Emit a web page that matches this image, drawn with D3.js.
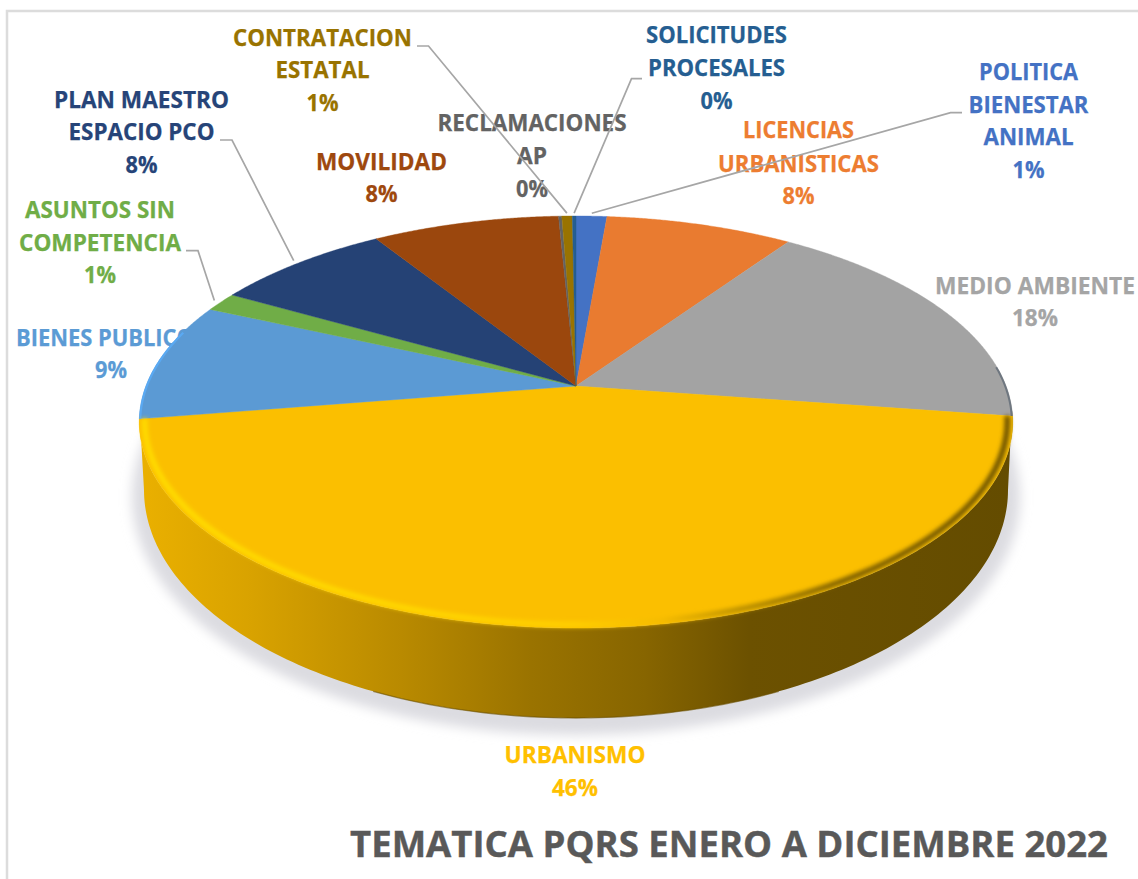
<!DOCTYPE html>
<html><head><meta charset="utf-8">
<script src="https://cdn.jsdelivr.net/npm/d3@7/dist/d3.min.js"></script>
<style>html,body{margin:0;padding:0;background:#fff;overflow:hidden}svg{display:block}text{font-family:"Open Sans",sans-serif;font-weight:700}</style>
</head><body><svg id="c" width="1138" height="879"></svg>
<script>
// ---- data ----
const categories = ["POLITICA BIENESTAR ANIMAL","LICENCIAS URBANISTICAS","MEDIO AMBIENTE","URBANISMO","BIENES PUBLICOS","ASUNTOS SIN COMPETENCIA","PLAN MAESTRO ESPACIO PCO","MOVILIDAD","RECLAMACIONES AP","CONTRATACION ESTATAL","SOLICITUDES PROCESALES"];
const values = [1.35,8.2,17.8,45.1,9.3,1.5,7.8,8.2,0.14,0.46,0.16];
const percentLabels = ["1%","8%","18%","46%","9%","1%","8%","8%","0%","1%","0%"];
const sliceColors = ["#4472c4","#e97b30","#a3a3a3","#fbbf00","#5b9ad4","#70ad47","#254275","#9b470d","#636363","#997300","#255e91"];
const textColors  = ["#4472c4","#ed7d31","#a5a5a5","#ffc000","#5b9bd5","#70ad47","#264478","#9e480e","#636363","#997300","#255e91"];
const titleText = "TEMATICA PQRS ENERO A DICIEMBRE 2022";

// ---- layout: per-category label lines as [text, centre x, baseline y, width] ----
const labelLines = [
 [["POLITICA",1028.5,80,99],["BIENESTAR",1028.5,113,120],["ANIMAL",1028.5,145,90],["1%",1028.5,178,32]],
 [["LICENCIAS",798.5,138,111],["URBANISTICAS",798.5,172,161],["8%",798.5,204,32]],
 [["MEDIO AMBIENTE",1035,294,200],["18%",1035,326,46]],
 [["URBANISMO",575,763,141],["46%",575,796,46]],
 [["BIENES PUBLICOS",111,346,190],["9%",111,378,32]],
 [["ASUNTOS SIN",100,218,150],["COMPETENCIA",100,251,162],["1%",100,283,32]],
 [["PLAN MAESTRO",141.5,108,175],["ESPACIO PCO",141.5,140,146],["8%",141.5,173,32]],
 [["MOVILIDAD",381.5,170,131],["8%",381.5,202,32]],
 [["RECLAMACIONES",532,131,189],["AP",532,164,30],["0%",532,197,32]],
 [["CONTRATACION",322.5,46,179],["ESTATAL",322.5,78,94],["1%",322.5,111,32]],
 [["SOLICITUDES",716.5,43,141],["PROCESALES",716.5,76,137],["0%",716.5,109,32]]
];
// leader lines: category index and the elbow (label end, knee); the far end is taken from the slice rim
const leaders = [
 [0,[962,112.7],[950.6,112.7]],
 [9,[417,46],[428.5,46]],
 [10,[642,78.7],[631.5,78.7]],
 [6,[220,140],[232,140]],
 [5,[186,250.7],[198,250.7]]
];

const cx=576, cy=422, rxC=430, ry=206, lift=36, k=-0.1748;
const base={cx:576,cy:490,rx:432,ry:228};
function project(a,r=1){const x=r*Math.sin(a),y=-r*Math.cos(a),w=1+k*y;return [cx+rxC*x/w,cy+(ry*y-lift)/w];}
const line=d3.line();
const svg=d3.select("#c");
const defs=svg.append("defs");
const blur=(id,s)=>defs.append("filter").attr("id",id).attr("x","-10%").attr("y","-10%").attr("width","120%").attr("height","120%").append("feGaussianBlur").attr("stdDeviation",s);
blur("shadow",6);blur("soft",2.2);

const arcs=d3.pie().sort(null).value(d=>d)(values);
const urb=arcs[3];

// frame
svg.append("rect").attr("x",7).attr("y",11).attr("width",1300).attr("height",1000).attr("fill","none").attr("stroke","#dcdcdc").attr("stroke-width",2.5);

// labels sit behind the pie
labelLines.forEach((lines,i)=>{
  svg.append("g").selectAll("text").data(lines).join("text")
    .attr("x",d=>d[1]).attr("y",d=>d[2]).attr("text-anchor","middle")
    .attr("font-size",22.4).attr("fill",textColors[i]).attr("stroke",textColors[i]).attr("stroke-width",.25)
    .attr("textLength",d=>d[3]).attr("lengthAdjust","spacingAndGlyphs").text(d=>d[0]);
});
// leaders
leaders.forEach(([i,p0,p1])=>{
  const a=(arcs[i].startAngle+arcs[i].endAngle)/2;
  svg.append("path").attr("d",line([p0,p1,project(a,1.02)])).attr("fill","none").attr("stroke","#a6a6a6").attr("stroke-width",1.7);
});

// ground shadow
svg.append("ellipse").attr("cx",base.cx).attr("cy",base.cy+7).attr("rx",base.rx+12).attr("ry",base.ry+10).attr("fill","#dcdce1").attr("filter","url(#shadow)");

// side wall
const grad=defs.append("linearGradient").attr("id","side").attr("gradientUnits","userSpaceOnUse").attr("x1",140).attr("x2",1010).attr("y1",0).attr("y2",0);
[[0,"#eab000"],[0.13,"#d8a200"],[0.3,"#b98a00"],[0.45,"#9a7300"],[0.58,"#876500"],[0.7,"#6c5100"],[1,"#644c00"]].forEach(s=>grad.append("stop").attr("offset",s[0]).attr("stop-color",s[1]));
const rimTop=d3.range(urb.startAngle-0.03,urb.endAngle+0.03,0.01).map(a=>project(a));
const rimBase=d3.range(270,89,-1).map(d=>{const t=d*Math.PI/180;return [base.cx+base.rx*Math.sin(t),base.cy-base.ry*Math.cos(t)];});
svg.append("path").attr("d",line(rimTop.concat(rimBase))+"Z").attr("fill","url(#side)");
// dark foot of the wall
svg.append("path").attr("d",line(rimBase.filter(p=>p[1]>690))).attr("fill","none").attr("stroke","#6a5000").attr("stroke-width",1.3).attr("opacity",.6);

// top faces
const steps=a=>d3.range(a.startAngle,a.endAngle,0.005).concat([a.endAngle]);
svg.append("g").selectAll("path").data(arcs).join("path")
  .attr("d",d=>line([project(0,0)].concat(steps(d).map(t=>project(t))))+"Z")
  .attr("fill",(d,i)=>sliceColors[i]).attr("stroke",(d,i)=>sliceColors[i]).attr("stroke-width",.4);

// rim glints on the neighbouring slices
svg.append("path").attr("d",line(steps(arcs[4]).slice(0,90).map(t=>project(t,0.998)))).attr("fill","none").attr("stroke","#5aa9f2").attr("stroke-width",2.2);
svg.append("path").attr("d",line(steps(arcs[2]).slice(-50).map(t=>project(t,0.998)))).attr("fill","none").attr("stroke","#6f7780").attr("stroke-width",2);

// bevel along the front rim of the big slice
const bev=defs.append("linearGradient").attr("id","bevel").attr("gradientUnits","userSpaceOnUse").attr("x1",140).attr("x2",1010).attr("y1",0).attr("y2",0);
[[0,"#ffdc00"],[0.3,"#ffd800"],[0.5,"#ffcf00"],[0.6,"#f5bb00"],[0.68,"#c09400"],[0.8,"#7d5f00"],[1,"#6a5000"]].forEach(s=>bev.append("stop").attr("offset",s[0]).attr("stop-color",s[1]));
svg.append("path").attr("d",line(steps(urb).map(t=>project(t,0.988)))).attr("fill","none").attr("stroke","url(#bevel)").attr("stroke-width",5.5).attr("filter","url(#soft)");

// title
svg.append("text").attr("x",729).attr("y",857).attr("text-anchor","middle").attr("font-size",36.5).attr("fill","#595959").attr("stroke","#595959").attr("stroke-width",.4)
  .attr("textLength",758).attr("lengthAdjust","spacingAndGlyphs").text(titleText);
</script></body></html>
